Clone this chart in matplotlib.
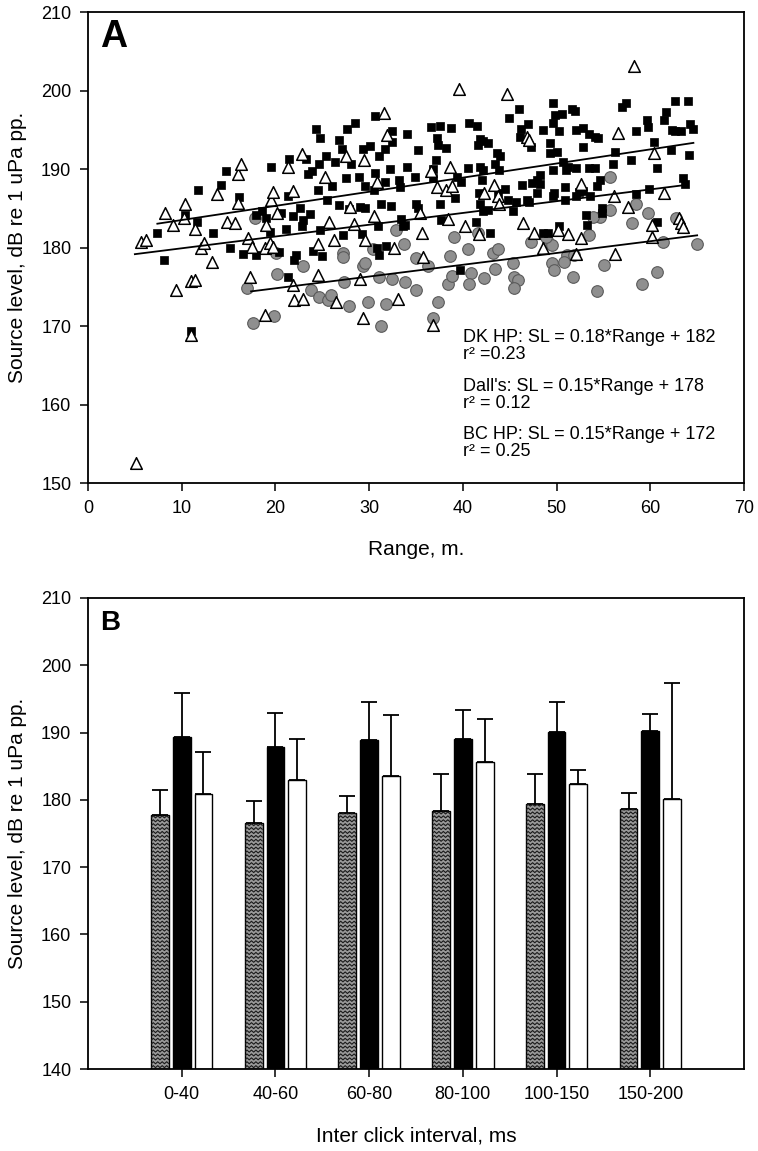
import numpy as np
import matplotlib
matplotlib.use('Agg')
import matplotlib.pyplot as plt
from matplotlib.collections import LineCollection

plt.rcParams['font.family'] = ['Liberation Sans', 'DejaVu Sans']

# ---- panel A: source level vs range ----
dk_x = [7.4, 8.1, 10.4, 11.7, 13.3, 14.2, 14.7, 15.2, 16.1, 11.6, 16.5, 17.9, 17.9, 18.6, 19.0, 19.5, 19.4,
        20.4, 20.6, 21.1, 21.3, 21.5, 22.0, 22.2, 21.9, 22.6, 22.9, 22.8, 23.7, 23.3, 23.5, 23.9, 24.3, 24.7,
        24.8, 24.8, 24.5, 24.0, 25.0, 25.4, 25.5, 26.0, 26.4, 26.8, 26.8, 27.2, 27.1, 27.5, 27.6, 27.9, 28.1,
        28.5, 28.9, 29.0, 29.3, 29.6, 29.6, 29.2, 30.1, 30.5, 30.6, 30.6, 30.8, 31.1, 30.9, 31.1, 31.3, 31.7,
        31.8, 31.7, 32.2, 32.3, 32.4, 33.2, 33.3, 33.4, 33.6, 34.0, 34.0, 32.4, 35.2, 34.9, 35.0, 35.2, 36.6,
        37.6, 38.7, 37.2, 37.4, 38.2, 37.1, 36.8, 36.8, 37.6, 37.7, 39.2, 39.4, 39.8, 40.6, 40.7, 41.5, 41.8,
        42.2, 42.7, 41.6, 41.8, 42.2, 41.7, 41.8, 42.0, 43.6, 44.0, 43.4, 43.9, 44.5, 43.8, 41.4, 42.7, 42.2,
        42.9, 44.9, 46.0, 44.8, 45.3, 45.7, 46.1, 46.2, 47.0, 47.3, 46.3, 46.8, 47.1, 47.4, 47.9, 48.2, 48.2,
        47.9, 48.6, 49.3, 49.3, 49.6, 49.6, 49.8, 50.0, 50.3, 50.6, 50.7, 49.6, 50.9, 50.9, 49.6, 49.7, 51.6,
        52.0, 52.1, 51.0, 51.2, 52.1, 52.8, 52.8, 53.5, 54.1, 54.4, 53.5, 54.1, 54.6, 52.1, 52.4, 52.8, 53.6,
        54.3, 54.8, 53.1, 53.3, 54.8, 56.0, 56.2, 57.0, 57.4, 57.9, 58.5, 58.5, 59.6, 59.8, 59.9, 60.4, 60.7,
        60.7, 61.5, 61.7, 62.6, 62.3, 62.6, 62.2, 63.3, 63.5, 63.7, 64.0, 64.1, 64.2, 64.6, 39.7, 48.6, 49.1,
        50.3, 11.0, 21.3, 33.8]
dk_y = [181.8, 178.4, 184.1, 187.3, 181.8, 188.0, 189.8, 179.9, 186.4, 183.3, 179.2, 184.1, 179.0, 184.7, 183.7,
        190.3, 182.0, 179.4, 184.4, 182.4, 186.6, 191.3, 178.4, 179.0, 184.0, 185.0, 183.5, 182.7, 184.3, 191.3,
        189.3, 189.8, 195.1, 190.7, 193.9, 182.2, 187.3, 179.5, 178.9, 191.6, 186.1, 187.8, 190.9, 193.7, 185.4,
        181.6, 192.5, 188.8, 195.1, 184.9, 190.7, 195.9, 189.0, 185.2, 192.6, 185.0, 187.8, 181.7, 192.9, 187.3,
        196.7, 189.5, 179.9, 179.1, 182.8, 191.6, 185.6, 192.5, 180.2, 188.3, 190.0, 185.3, 194.8, 188.6, 187.7,
        183.6, 182.7, 194.5, 190.2, 193.5, 192.4, 189.0, 185.6, 185.0, 195.4, 195.5, 195.2, 193.9, 193.1, 192.7,
        191.1, 190.0, 188.8, 185.5, 183.5, 186.3, 189.0, 188.4, 190.1, 195.8, 195.5, 193.8, 193.6, 193.3, 193.0,
        190.3, 189.9, 186.9, 185.6, 188.6, 192.1, 191.6, 190.7, 189.9, 187.4, 186.9, 183.3, 184.8, 184.6, 181.9,
        196.5, 197.6, 186.1, 184.7, 185.8, 194.1, 195.1, 195.7, 192.8, 188.0, 186.1, 185.8, 188.2, 188.6, 189.2,
        188.1, 187.0, 195.0, 193.3, 192.0, 198.4, 195.8, 196.9, 192.2, 194.8, 197.0, 190.9, 189.9, 187.7, 186.1,
        186.5, 186.9, 197.6, 197.4, 195.0, 189.9, 190.3, 190.1, 192.8, 195.2, 194.5, 194.1, 194.0, 190.1, 190.1,
        188.6, 186.6, 187.1, 187.2, 186.6, 187.8, 185.0, 184.1, 182.9, 184.4, 190.6, 192.2, 197.9, 198.4, 191.2,
        194.9, 186.8, 196.2, 195.3, 187.4, 193.4, 190.1, 183.2, 196.2, 197.3, 198.6, 195.0, 194.8, 192.4, 194.8,
        188.8, 188.1, 198.7, 191.8, 195.7, 195.1, 177.1, 181.8, 181.8, 182.7, 169.3, 176.3, 182.9]

dall_x = [5.7, 6.2, 8.2, 9.1, 10.4, 10.2, 11.4, 12.1, 12.4, 13.2, 13.8, 14.8, 15.7, 16.0, 16.3, 16.0, 17.1, 17.5,
          19.0, 18.9, 19.4, 19.7, 19.5, 19.7, 20.2, 21.3, 21.9, 22.8, 24.5, 25.3, 25.7, 26.3, 27.5, 28.0, 28.4,
          29.5, 29.6, 30.5, 30.8, 31.6, 31.9, 32.7, 5.1, 9.4, 11.0, 11.4, 11.0, 17.3, 18.9, 21.9, 22.0, 22.9,
          24.5, 26.5, 29.3, 29.0, 33.1, 39.6, 44.7, 58.3, 36.6, 38.6, 37.2, 38.2, 38.8, 35.4, 38.4, 35.6, 35.8,
          40.2, 41.7, 42.3, 43.3, 43.8, 43.9, 46.8, 47.1, 46.4, 47.6, 48.5, 50.2, 51.2, 52.1, 52.6, 52.6, 56.1,
          56.2, 56.6, 57.6, 60.2, 60.2, 60.4, 61.5, 63.1, 63.3, 63.5, 36.8]
dall_y = [180.7, 181.0, 184.4, 182.9, 185.6, 183.7, 182.4, 179.9, 180.6, 178.1, 186.8, 183.3, 183.1, 189.4, 190.6,
          185.7, 181.2, 180.1, 182.9, 179.9, 180.6, 180.1, 186.1, 187.1, 184.4, 190.2, 187.2, 191.9, 180.5, 189.0,
          183.2, 181.0, 191.7, 185.2, 183.0, 191.2, 181.0, 184.0, 188.4, 197.1, 194.3, 179.9, 152.6, 174.6, 175.7,
          175.9, 168.9, 176.3, 171.4, 175.2, 173.3, 173.5, 176.5, 173.0, 171.0, 176.0, 173.4, 200.2, 199.6, 203.1,
          189.7, 190.3, 187.7, 187.3, 187.8, 184.4, 183.6, 181.8, 178.8, 182.7, 181.7, 186.9, 188.0, 186.5, 185.6,
          194.1, 193.7, 183.1, 181.8, 179.9, 182.2, 181.7, 179.2, 181.2, 188.1, 186.6, 179.2, 194.6, 185.2, 182.9,
          181.3, 192.1, 187.0, 183.7, 183.1, 182.6, 170.1]

bc_x = [17.0, 17.6, 19.8, 20.2, 20.1, 22.9, 23.8, 24.6, 25.6, 25.9, 27.2, 27.2, 27.3, 27.8, 29.3, 29.6, 29.9,
        30.4, 31.1, 31.3, 31.8, 32.4, 32.9, 33.7, 33.8, 35.0, 35.0, 17.8, 36.3, 36.8, 37.4, 38.4, 38.8, 38.6,
        39.1, 40.6, 40.9, 40.7, 42.3, 43.2, 43.8, 43.4, 45.4, 45.5, 45.9, 45.5, 47.3, 49.1, 49.5, 49.5, 49.7,
        48.9, 51.1, 50.8, 51.8, 53.5, 54.3, 54.6, 55.1, 55.7, 58.1, 59.1, 59.8, 60.7, 61.4, 62.7, 65.0, 55.7,
        58.5, 41.6, 51.9, 53.9]
bc_y = [174.9, 170.4, 171.3, 176.6, 179.3, 177.6, 174.6, 173.7, 173.3, 174.0, 179.3, 178.8, 175.6, 172.5, 177.6,
        178.0, 173.0, 179.8, 176.3, 170.0, 172.8, 176.0, 182.2, 180.4, 175.6, 178.6, 174.6, 183.7, 177.6, 171.0,
        173.0, 175.4, 176.4, 178.9, 181.4, 179.8, 176.8, 175.4, 176.1, 179.3, 179.8, 177.3, 178.0, 176.3, 175.9,
        174.8, 180.7, 180.7, 180.3, 178.0, 177.1, 181.4, 179.0, 178.1, 176.3, 181.6, 174.4, 183.9, 177.8, 184.8,
        183.1, 175.4, 184.4, 176.9, 180.7, 183.8, 180.4, 189.0, 185.6, 181.8, 179.0, 183.9]

# regression lines: slope, intercept, x range (DK HP, Dall's, BC HP)
fit_slope = [0.18, 0.15, 0.15]
fit_icpt = [181.7, 178.4, 171.8]
fit_x0 = [7.4, 5.0, 17.4]
fit_x1 = [64.6, 63.5, 65.0]

fit_text = ["DK HP: SL = 0.18*Range + 182\nr\u00b2 =0.23",
            "Dall's: SL = 0.15*Range + 178\nr\u00b2 = 0.12",
            "BC HP: SL = 0.15*Range + 172\nr\u00b2 = 0.25"]

# ---- panel B: mean SL per inter click interval ----
ici_labels = ['0-40', '40-60', '60-80', '80-100', '100-150', '150-200']
bc_mean = [177.8, 176.5, 178.1, 178.4, 179.4, 178.7]
bc_sd = [3.7, 3.4, 2.5, 5.5, 4.4, 2.3]
dk_mean = [189.3, 187.8, 188.9, 189.0, 190.1, 190.3]
dk_sd = [6.6, 5.1, 5.6, 4.4, 4.4, 2.5]
dall_mean = [180.9, 183.0, 183.5, 185.7, 182.4, 180.1]
dall_sd = [6.2, 6.1, 9.1, 6.3, 2.1, 17.2]

W, H = 758, 1151
fig = plt.figure(figsize=(W / 100, H / 100), dpi=100)

axA = fig.add_axes([88 / W, 1 - 483 / H, 656 / W, 471 / H])
axA.scatter(bc_x, bc_y, s=70, c='#8f8f8f', edgecolors='#5a5a5a', linewidths=0.8, zorder=2)
axA.scatter(dk_x, dk_y, s=40, marker='s', c='black', edgecolors='black', linewidths=0.5, zorder=3)
axA.scatter(dall_x, dall_y, s=70, marker='^', c='white', edgecolors='black', linewidths=1.1, zorder=4)
for k in range(3):
    xx = np.array([fit_x0[k], fit_x1[k]])
    axA.plot(xx, fit_slope[k] * xx + fit_icpt[k], color='black', lw=1.3, zorder=5)

for k, ytop in enumerate([169.6, 163.4, 157.2]):
    axA.text(40.0, ytop, fit_text[k], fontsize=13, va='top', linespacing=1.0, zorder=6)
axA.text(0.018, 0.985, 'A', transform=axA.transAxes, fontsize=27, fontweight='bold', va='top')

axA.set_xlim(0, 70)
axA.set_ylim(150, 210)
axA.set_xticks(range(0, 71, 10))
axA.set_yticks(range(150, 211, 10))
axA.set_xlabel('Range, m.', fontsize=15, labelpad=17)
axA.set_ylabel('Source level, dB re 1 uPa pp.', fontsize=15, labelpad=10)

axB = fig.add_axes([88 / W, 1 - 1069 / H, 656 / W, 471 / H])
pos = np.arange(len(ici_labels))
bw = 0.19
off = 0.232
hatched = axB.bar(pos - off, [m - 140 for m in bc_mean], bw, bottom=140, color='#9a9a9a',
                  edgecolor='black', lw=1.0, zorder=2)
axB.bar(pos, [m - 140 for m in dk_mean], bw, bottom=140, color='black', edgecolor='black', lw=1.0, zorder=2)
axB.bar(pos + off, [m - 140 for m in dall_mean], bw, bottom=140, color='white', edgecolor='black',
        lw=1.0, zorder=2)
axB.errorbar(pos - off, bc_mean, yerr=[np.zeros(6), bc_sd], fmt='none', ecolor='black', elinewidth=1.3,
             capsize=6, capthick=1.3, zorder=1)
axB.errorbar(pos, dk_mean, yerr=[np.zeros(6), dk_sd], fmt='none', ecolor='black', elinewidth=1.3,
             capsize=6, capthick=1.3, zorder=1)
axB.errorbar(pos + off, dall_mean, yerr=[np.zeros(6), dall_sd], fmt='none', ecolor='black', elinewidth=1.3,
             capsize=6, capthick=1.3, zorder=1)

# zigzag fill for the BC HP bars
for rect in hatched:
    x0 = rect.get_x()
    w = rect.get_width()
    y0 = rect.get_y()
    y1 = y0 + rect.get_height()
    zx = np.linspace(x0, x0 + w, 9)
    segs = []
    for yy in np.arange(y0 + 0.2, y1, 0.58):
        zy = yy + np.where(np.arange(9) % 2 == 0, 0.0, 0.3)
        segs.append(np.column_stack([zx, zy]))
    lc = LineCollection(segs, colors='#1a1a1a', linewidths=0.8, zorder=2.5)
    axB.add_collection(lc)
    lc.set_clip_path(rect)

axB.text(0.018, 0.975, 'B', transform=axB.transAxes, fontsize=20, fontweight='bold', va='top')
axB.set_xlim(-1, 6)
axB.set_ylim(140, 210)
axB.set_xticks(pos)
axB.set_xticklabels(ici_labels)
axB.set_yticks(range(140, 211, 10))
axB.set_xlabel('Inter click interval, ms', fontsize=15, labelpad=17)
axB.set_ylabel('Source level, dB re 1 uPa pp.', fontsize=15, labelpad=10)

for ax in (axA, axB):
    ax.tick_params(direction='out', length=6, width=1.1, labelsize=13, pad=6)
    for sp in ax.spines.values():
        sp.set_linewidth(1.3)

fig.savefig('out.png', dpi=100)
